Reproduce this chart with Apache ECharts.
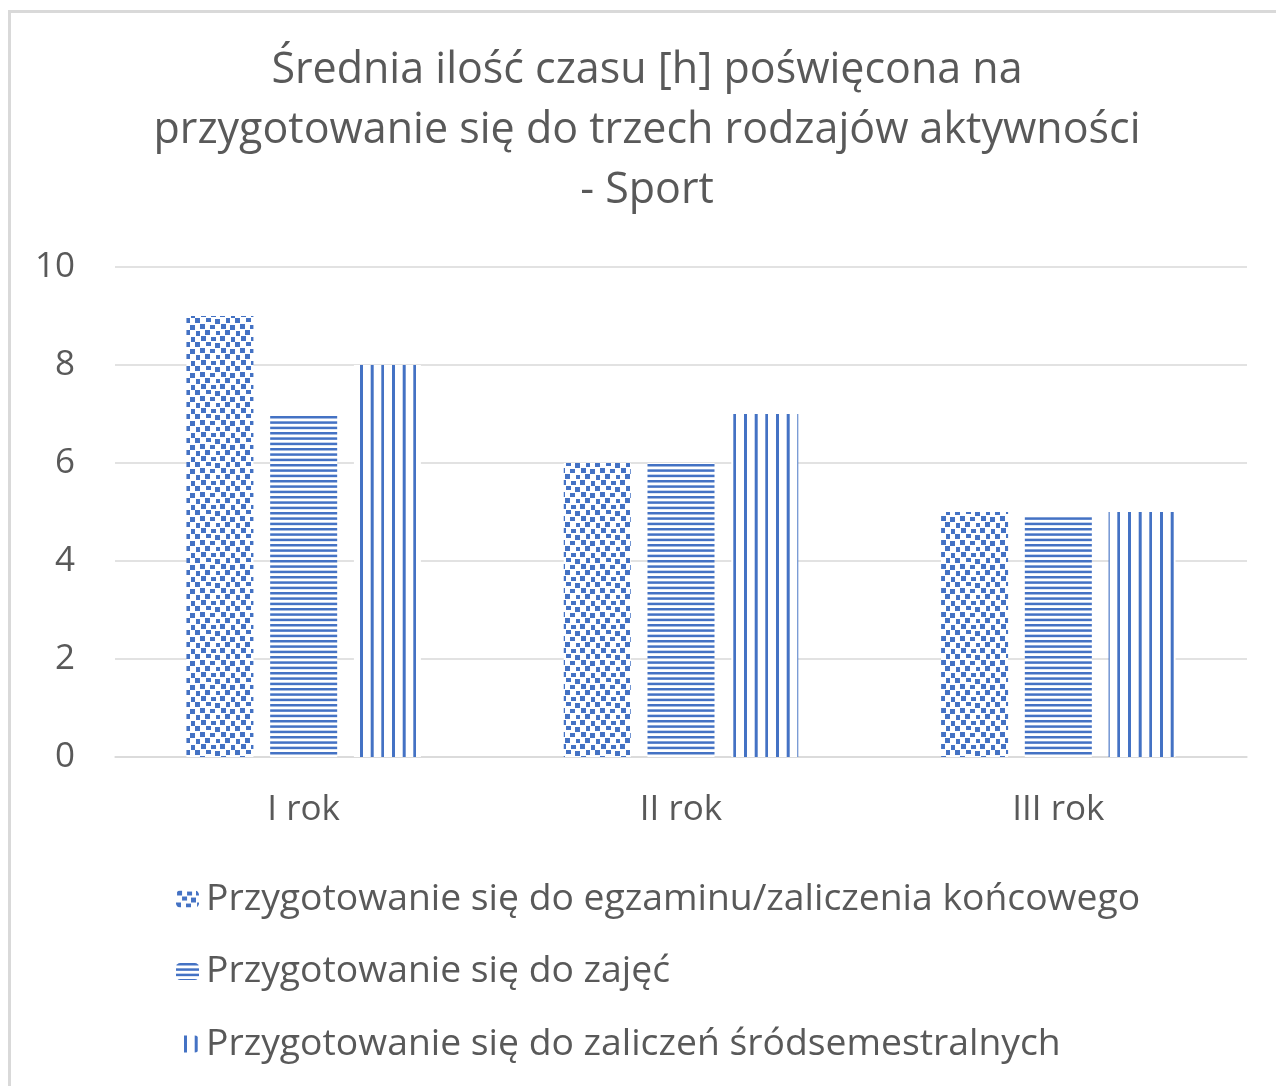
<!DOCTYPE html>
<html>
<head>
<meta charset="utf-8">
<script src="https://cdn.jsdelivr.net/npm/echarts@6/dist/echarts.min.js"></script>
<style>
html,body{margin:0;padding:0;background:#fff;}
#c{width:1276px;height:1086px;}
</style>
</head>
<body>
<div id="c"></div>
<script>
const titleText = 'Średnia ilość czasu [h] poświęcona na\nprzygotowanie się do trzech rodzajów aktywności\n- Sport';
const categories = ['I rok', 'II rok', 'III rok'];
const seriesNames = [
  'Przygotowanie się do egzaminu/zaliczenia końcowego',
  'Przygotowanie się do zajęć',
  'Przygotowanie się do zaliczeń śródsemestralnych'
];
const examValues = [9, 6, 5];
const classValues = [7, 6, 4.9];
const midtermValues = [8, 7, 5];
const yTicks = [0, 2, 4, 6, 8, 10];

const BLUE = '#4472C4';
const FONT = '"Open Sans", "Noto Sans", sans-serif';
const TEXT = '#595959';

function makeConfetti() {
  const W = 40, H = 24;
  const c = document.createElement('canvas');
  c.width = W; c.height = H;
  const g = c.getContext('2d');
  g.fillStyle = '#fff'; g.fillRect(0, 0, W, H);
  g.fillStyle = BLUE;
  // hand-placed confetti squares [x, y, w, h]
  const sq = [
    [1,0,5,5],[11,1,5,4],[20,0,5,5],[31,1,4,5],
    [6,6,5,4],[15,7,5,5],[26,6,4,5],[35,6,5,5],
    [0,12,5,5],[10,13,5,4],[21,12,5,5],[30,13,5,5],
    [5,18,5,5],[16,19,4,4],[25,18,5,5],[36,19,4,5]
  ];
  sq.forEach(s => {
    for (const ox of [-W, 0, W]) for (const oy of [-H, 0, H]) {
      g.fillRect(s[0] + ox, s[1] + oy, s[2], s[3]);
    }
  });
  return c;
}
function makeHStripes() {
  const c = document.createElement('canvas');
  c.width = 8; c.height = 16;
  const g = c.getContext('2d');
  g.fillStyle = '#fff'; g.fillRect(0, 0, 8, 16);
  g.fillStyle = BLUE;
  g.fillRect(0, 0, 8, 2.5); g.fillRect(0, 5.33, 8, 2.5); g.fillRect(0, 10.67, 8, 2.5);
  return c;
}
function makeVStripes() {
  const c = document.createElement('canvas');
  c.width = 32; c.height = 8;
  const g = c.getContext('2d');
  g.fillStyle = '#fff'; g.fillRect(0, 0, 32, 8);
  g.fillStyle = BLUE;
  g.fillRect(8, 0, 3, 8); g.fillRect(18.7, 0, 3, 8); g.fillRect(29.3, 0, 2.7, 8);
  return c;
}

const patterns = [
  { image: makeConfetti(), repeat: 'repeat' },
  { image: makeHStripes(), repeat: 'repeat' },
  { image: makeVStripes(), repeat: 'repeat' }
];
const valueSets = [examValues, classValues, midtermValues];

const chart = echarts.init(document.getElementById('c'), null, { renderer: 'canvas' });
chart.setOption({
  animation: false,
  backgroundColor: '#fff',
  graphic: [
    { type: 'rect', shape: { x: 9.5, y: 11.5, width: 1300, height: 1100 },
      style: { fill: 'none', stroke: '#d9d9d9', lineWidth: 3 }, silent: true },
    { type: 'text', x: 647, y: 41,
      style: { text: titleText, fill: TEXT, font: '43px ' + FONT, textAlign: 'center', lineHeight: 60 } }
  ],
  grid: { left: 115, right: 29, top: 267, bottom: 329, containLabel: false },
  legend: {
    orient: 'vertical', left: 171, top: 874,
    itemWidth: 23, itemHeight: 17, itemGap: 32.5,
    data: seriesNames,
    textStyle: { color: TEXT, fontSize: 37.3, fontFamily: FONT, lineHeight: 40, padding: [0, 0, 0, 2] }
  },
  xAxis: {
    type: 'category', data: categories,
    axisLine: { lineStyle: { color: '#d9d9d9', width: 1.5 } },
    axisTick: { show: false },
    axisLabel: { color: TEXT, fontSize: 35, fontFamily: FONT, margin: 36 }
  },
  yAxis: {
    type: 'value', min: yTicks[0], max: yTicks[yTicks.length - 1], interval: 2,
    axisLine: { show: false }, axisTick: { show: false },
    splitLine: { lineStyle: { color: '#d9d9d9', width: 1.5 } },
    axisLabel: { color: TEXT, fontSize: 35, fontFamily: FONT, margin: 40 }
  },
  series: seriesNames.map((n, i) => ({
    name: n, type: 'bar', data: valueSets[i],
    barWidth: 67, barGap: '25%',
    itemStyle: { color: patterns[i] }
  }))
});
</script>
</body>
</html>
